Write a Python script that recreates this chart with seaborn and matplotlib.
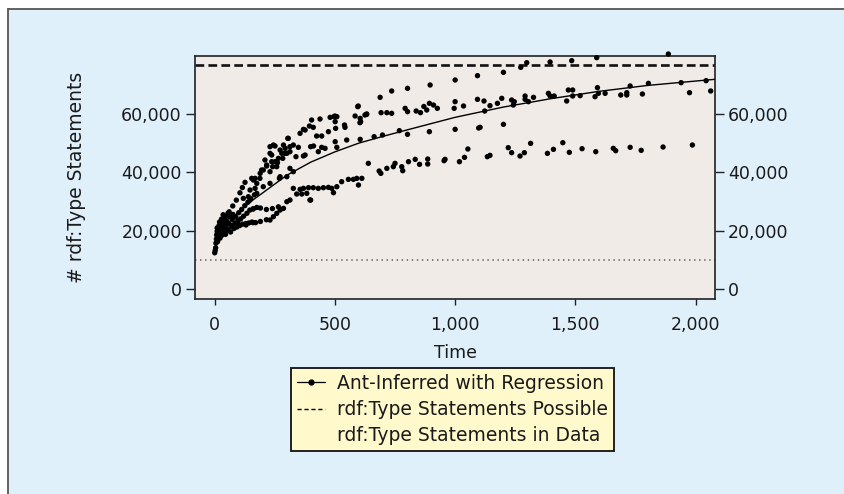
import matplotlib
matplotlib.use("Agg")
import matplotlib.pyplot as plt
import pandas as pd
import seaborn as sns
from matplotlib.lines import Line2D
from matplotlib.patches import Rectangle
from matplotlib.ticker import FuncFormatter

# ---------------- data ----------------
early_x = [0, 2, 4, 5, 7, 8, 10, 12, 14, 16, 18, 20, 22, 25, 27, 30, 32, 35, 38, 40,
           43, 45, 48, 50, 53, 56, 60, 63, 66, 70, 73, 76, 80, 84, 88, 92, 96, 100, 104, 108,
           112, 116, 120, 125, 130, 134, 138, 142, 146, 150, 155, 160, 165, 170, 175, 60, 75, 90, 105, 115,
           20, 35, 55, 10, 28]
early_y = [12500, 13300, 14200, 15800, 17200, 18600, 19800, 16300, 18000, 20500, 21800, 19200, 17500, 20800, 22600, 18500, 21400, 23500, 19800, 22200,
           24300, 18800, 21000, 23300, 25200, 20200, 22400, 24800, 19600, 21800, 23900, 25600, 20800, 22600, 24700, 21300, 23200, 26200, 21800, 24100,
           27300, 22300, 25000, 28600, 22000, 26000, 29800, 22700, 27100, 31000, 23000, 27500, 32300, 22800, 28000, 26500, 28500, 30500, 33000, 34800,
           23000, 25500, 26000, 21000, 24000]

upper_x = [126, 154, 168, 175, 189, 202, 216, 230, 230, 237, 241, 251, 251, 261, 265, 279, 283, 293, 300, 304,
           313, 313, 327, 355, 369, 376, 394, 403, 410, 438, 480, 496, 501, 508, 540, 542, 584, 595, 605, 607,
           625, 632, 688, 692, 716, 736, 736, 792, 802, 802, 838, 882, 893, 896, 926, 996, 1000, 1000, 1035, 1093,
           1093, 244, 286, 306, 230, 272, 292, 209, 237, 216, 195, 161, 188, 168, 147, 119,
           140, 856, 870, 910, 597, 604, 632, 500, 424, 445]
upper_y = [36572, 37940, 37940, 36226, 39649, 40788, 42156, 40218, 48767, 45918, 41928, 43638, 48995, 43296, 44777, 46487, 44777, 48197, 46487, 51616,
           48767, 47057, 49337, 53326, 54693, 54465, 55833, 57884, 55377, 58226, 58796, 59024, 57314, 59024, 56175, 55377, 59252, 62443, 58454, 57314,
           59594, 59936, 65634, 60392, 60392, 60164, 67800, 61873, 60734, 68711, 60962, 61304, 63583, 69851, 61873, 61873, 64153, 71561, 62671, 64951,
           73042, 49336, 49336, 51616, 46487, 47628, 46487, 44207, 43638, 42498, 40788, 37370, 37940, 34520, 33950, 31100,
           31670, 60400, 62500, 63000, 62670, 56970, 59820, 59250, 52410, 52410]

mid_x = [147, 175, 202, 230, 258, 269, 272, 300, 313, 327, 338, 348, 369, 376, 399, 411, 431, 445, 459, 473,
         501, 503, 508, 549, 605, 663, 698, 768, 802, 893, 1000, 1098, 1104, 1201]
mid_y = [30531, 32811, 35090, 36230, 41928, 37940, 38510, 38510, 41359, 40218, 45348, 48539, 45576, 45918, 48767, 48995, 47057, 48539, 48197, 53895,
         50477, 55035, 48539, 51046, 51274, 52186, 52756, 54237, 52984, 53895, 54693, 55149, 55377, 56403]

lower_x = [230, 244, 258, 272, 286, 300, 313, 327, 341, 355, 362, 369, 383, 390, 396, 399, 410, 431, 452, 473,
           487, 494, 508, 528, 556, 577, 591, 598, 612, 639, 684, 691, 716, 743, 750, 778, 782, 806, 834, 852,
           886, 886, 954, 958, 1018, 1039, 1053, 1134, 1145, 1221, 1235, 1270, 1288, 1314, 1384, 1409, 1448, 1475, 1528, 1585,
           1658, 1668, 1728, 1774, 1865, 1987, 70, 100, 130, 160, 190, 215, 160, 190, 215, 240, 265]
lower_y = [23693, 24833, 25973, 27113, 27682, 29962, 30531, 34520, 32582, 34178, 32582, 34520, 32811, 34748, 30531, 30531, 34748, 34520, 34748, 34862,
           34520, 33039, 35090, 36800, 37598, 37598, 37940, 35661, 37940, 43068, 40446, 39649, 41359, 41928, 43068, 41928, 40560, 43638, 44435, 42726,
           44549, 42840, 43980, 44435, 43638, 45120, 47969, 45348, 45803, 48425, 46715, 45576, 46715, 49906, 46487, 47855, 50134, 46829, 48083, 47057,
           48197, 47399, 48539, 47513, 48653, 49337, 21500, 22000, 22500, 22800, 23200, 23800, 27500, 27800, 27300, 27600, 28200]

late_x = [1120, 1123, 1145, 1176, 1194, 1235, 1242, 1246, 1291, 1291, 1305, 1326, 1388, 1395, 1412, 1464, 1471, 1489, 1489, 1520,
          1582, 1592, 1596, 1624, 1689, 1714, 1714, 1728, 1779, 1804, 1940, 1975, 2044, 2063,
          1201, 1273, 1298, 1395, 1485, 1589, 1887]
late_y = [64381, 60962, 62785, 63583, 65293, 64722, 63013, 64153, 66090, 64951, 64153, 65635, 67002, 66090, 66090, 64381, 68142, 68142, 66090, 66204,
          65862, 68940, 67002, 67002, 66432, 67230, 66432, 69509, 66773, 70421, 70649, 67230, 71333, 67800,
          74182, 75892, 77487, 77715, 78171, 79197, 80450]

# regression curve
curve_x = [10, 20, 60, 100, 150, 200, 300, 400, 500, 600, 700, 800, 1000, 1200, 1400, 1600, 1800, 2000, 2081]
curve_y = [16500, 18500, 23000, 26500, 30000, 33000, 39000, 43500, 47000, 50000, 52300, 54500, 58800, 62300, 65200, 67700, 69700, 71200, 71800]

possible_level = 76800
in_data_level = 10000

x_ticks = [0, 500, 1000, 1500, 2000]
y_ticks = [0, 20000, 40000, 60000]

legend_labels = ["Ant-Inferred with Regression",
                 "rdf:Type Statements Possible",
                 "rdf:Type Statements in Data"]
x_label = "Time"
y_label = "# rdf:Type Statements"

# ---------------- figure ----------------
sns.set_theme(style="white")
plt.rcParams['font.family'] = ['DejaVu Sans']

W, H = 844, 494
fig = plt.figure(figsize=(W / 100, H / 100), dpi=100, facecolor='white')
fig.add_artist(Rectangle((8 / W, 0), 1, 1 - 9 / H, transform=fig.transFigure,
                         facecolor='#dff0fb', edgecolor='none', zorder=-10))
fig.add_artist(Line2D([8 / W, 8 / W], [0, 1 - 9 / H], transform=fig.transFigure,
                      color='#555555', lw=1.3))
fig.add_artist(Line2D([8 / W, 1], [1 - 9 / H, 1 - 9 / H], transform=fig.transFigure,
                      color='#555555', lw=1.3))

ax = fig.add_axes([195 / W, 1 - 299 / H, 520 / W, 243 / H])
ax.set_facecolor('#f1ebe8')

all_x = early_x + upper_x + mid_x + lower_x + late_x
all_y = early_y + upper_y + mid_y + lower_y + late_y
df = pd.DataFrame({"Time": all_x, "Statements": all_y})

sns.scatterplot(data=df, x="Time", y="Statements", ax=ax, color='black', s=15,
                edgecolor='none', linewidth=0, clip_on=False, zorder=3, legend=False)
sns.lineplot(x=curve_x, y=curve_y, ax=ax, color='black', lw=1.0, estimator=None, zorder=4)

ax.axhline(possible_level, color='#111111', lw=1.9, dashes=(3.3, 1.6), zorder=2)
ax.axhline(in_data_level, color='#555555', lw=1.1, linestyle=(0, (0.9, 2.4)), zorder=2)

ax.set_xlim(-82, 2081)
ax.set_ylim(-3300, 79765)
ax.set_xticks(x_ticks)
ax.set_yticks(y_ticks)
fmt = FuncFormatter(lambda v, p: f"{v:,.0f}")
ax.xaxis.set_major_formatter(fmt)
ax.yaxis.set_major_formatter(fmt)

ax.tick_params(axis='y', left=True, right=True, labelleft=True, labelright=True,
               length=6.5, width=1.0, direction='out', pad=3, labelsize=12.5,
               color='#222222', labelcolor='#1a1a1a')
ax.tick_params(axis='x', bottom=True, top=False, length=4.5, width=1.0, direction='out',
               pad=8, labelsize=12.5, color='#222222', labelcolor='#1a1a1a')

for sp in ax.spines.values():
    sp.set_visible(True)
    sp.set_color('#222222')
    sp.set_linewidth(1.2)

ax.set_xlabel(x_label, fontsize=12.5, labelpad=7, color='#1a1a1a')
ax.set_ylabel(y_label, fontsize=13.5, color='#1a1a1a')
ax.yaxis.set_label_coords(-0.21, 0.5)

handles = [
    Line2D([], [], color='black', lw=0.9, marker='o', markersize=3.5),
    Line2D([], [], color='black', lw=1.0, dashes=(3, 2)),
    Line2D([], [], color='none', lw=1.0),
]
leg = fig.legend(handles, legend_labels, loc='upper left',
                 bbox_to_anchor=(291 / W, 1 - 368 / H), bbox_transform=fig.transFigure,
                 frameon=True, fancybox=False, facecolor='#fff9cc', edgecolor='#111111',
                 framealpha=1, fontsize=13.5, handlelength=1.5, numpoints=1,
                 borderpad=0.32, labelspacing=0.38, handletextpad=0.65, borderaxespad=0)
leg.get_frame().set_linewidth(1.3)
for t in leg.get_texts():
    t.set_color('#1a1a1a')

fig.savefig("out.png", dpi=100, facecolor=fig.get_facecolor())
